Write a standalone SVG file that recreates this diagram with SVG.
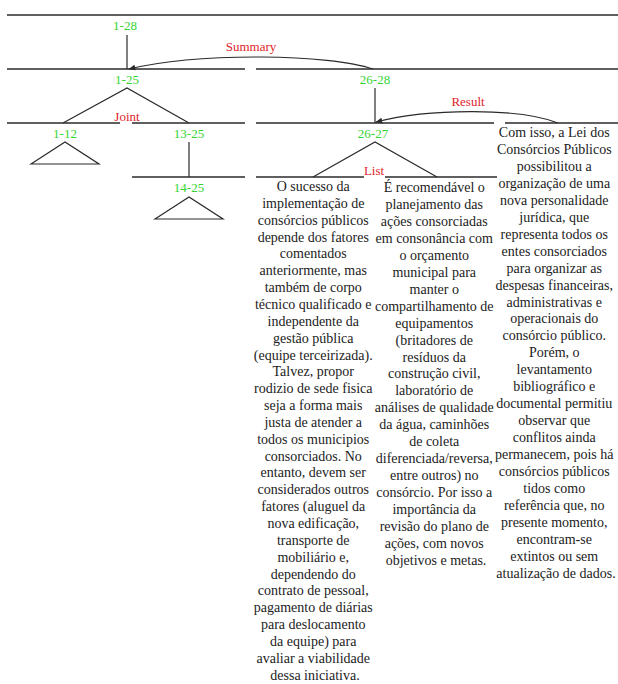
<svg xmlns="http://www.w3.org/2000/svg" width="618" height="684" viewBox="0 0 618 684">
<style>
.rule{stroke:#2a2a2a;stroke-width:1.3;fill:none}
.edge{stroke:#2a2a2a;stroke-width:1.2;fill:none}
text{font-family:'Liberation Serif','DejaVu Serif','Times New Roman',serif}
.lbl{font-size:13px;fill:#33d633;text-anchor:middle}
.rel{font-size:13px;fill:#e0242a;text-anchor:middle}
.body{font-size:14px;fill:#222;text-anchor:middle}
</style>
<defs>
<marker id="ah" viewBox="0 0 10 10" refX="9" refY="5" markerWidth="7" markerHeight="7" orient="auto" markerUnits="userSpaceOnUse">
<path d="M0,1 L10,5 L0,9 z" fill="#2a2a2a"/>
</marker>
</defs>
<rect width="618" height="684" fill="#fff"/>
<g id="rules">
<line class="rule" x1="7" y1="15" x2="618" y2="15"/>
<line class="rule" x1="7" y1="69" x2="245" y2="69"/>
<line class="rule" x1="256" y1="69" x2="618" y2="69"/>
<line class="rule" x1="7" y1="123" x2="120" y2="123"/>
<line class="rule" x1="132" y1="123" x2="245" y2="123"/>
<line class="rule" x1="256" y1="123" x2="494" y2="123"/>
<line class="rule" x1="505" y1="123" x2="618" y2="123"/>
<line class="rule" x1="132" y1="177" x2="245" y2="177"/>
<line class="rule" x1="256" y1="177" x2="364" y2="177"/>
<line class="rule" x1="385" y1="177" x2="497" y2="177"/>
</g>
<g id="connectors">
<line class="edge" x1="127" y1="35" x2="127" y2="69"/>
<polyline class="edge" points="63,123 127,88 189,123"/>
<line class="edge" x1="375" y1="88" x2="375" y2="123"/>
<polygon class="edge" points="31,164 65,142 99,164"/>
<line class="edge" x1="189" y1="142" x2="189" y2="177"/>
<polygon class="edge" points="155,219 189,197 223,219"/>
<polyline class="edge" points="313,177 375,142 437,177"/>
<path class="edge" d="M373,69 C330,54 200,52 129,69" marker-end="url(#ah)"/>
<path class="edge" d="M558,123 C520,108 430,108 376,122" marker-end="url(#ah)"/>
</g>
<g id="n1-28"><text class="lbl" x="125" y="30">1-28</text></g>
<g id="rel-summary"><text class="rel" x="251" y="51">Summary</text></g>
<g id="n1-25"><text class="lbl" x="127" y="84">1-25</text></g>
<g id="n26-28"><text class="lbl" x="375" y="84">26-28</text></g>
<g id="rel-result"><text class="rel" x="468" y="106">Result</text></g>
<g id="rel-joint"><text class="rel" x="127" y="121">Joint</text></g>
<g id="n1-12"><text class="lbl" x="65" y="138">1-12</text></g>
<g id="n13-25"><text class="lbl" x="189" y="138">13-25</text></g>
<g id="n26-27"><text class="lbl" x="373" y="138">26-27</text></g>
<g id="rel-list"><text class="rel" x="374" y="175">List</text></g>
<g id="n14-25"><text class="lbl" x="189" y="192">14-25</text></g>
<g id="n28">
<text class="body" y="137">
<tspan x="556">Com isso, a Lei dos</tspan>
<tspan x="556" dy="16.95">Consórcios Públicos</tspan>
<tspan x="556" dy="16.95">possibilitou a</tspan>
<tspan x="556" dy="16.95">organização de uma</tspan>
<tspan x="556" dy="16.95">nova personalidade</tspan>
<tspan x="556" dy="16.95">jurídica, que</tspan>
<tspan x="556" dy="16.95">representa todos os</tspan>
<tspan x="556" dy="16.95">entes consorciados</tspan>
<tspan x="556" dy="16.95">para organizar as</tspan>
<tspan x="556" dy="16.95">despesas financeiras,</tspan>
<tspan x="556" dy="16.95">administrativas e</tspan>
<tspan x="556" dy="16.95">operacionais do</tspan>
<tspan x="556" dy="16.95">consórcio público.</tspan>
<tspan x="556" dy="16.95">Porém, o</tspan>
<tspan x="556" dy="16.95">levantamento</tspan>
<tspan x="556" dy="16.95">bibliográfico e</tspan>
<tspan x="556" dy="16.95">documental permitiu</tspan>
<tspan x="556" dy="16.95">observar que</tspan>
<tspan x="556" dy="16.95">conflitos ainda</tspan>
<tspan x="556" dy="16.95">permanecem, pois há</tspan>
<tspan x="556" dy="16.95">consórcios públicos</tspan>
<tspan x="556" dy="16.95">tidos como</tspan>
<tspan x="556" dy="16.95">referência que, no</tspan>
<tspan x="556" dy="16.95">presente momento,</tspan>
<tspan x="556" dy="16.95">encontram-se</tspan>
<tspan x="556" dy="16.95">extintos ou sem</tspan>
<tspan x="556" dy="16.95">atualização de dados.</tspan>
</text>
</g>
<g id="n26">
<text class="body" y="191">
<tspan x="315">O sucesso da</tspan>
<tspan x="315" dy="16.85">implementação de</tspan>
<tspan x="315" dy="16.85">consórcios públicos</tspan>
<tspan x="315" dy="16.85">depende dos fatores</tspan>
<tspan x="315" dy="16.85">comentados</tspan>
<tspan x="315" dy="16.85">anteriormente, mas</tspan>
<tspan x="315" dy="16.85">também de corpo</tspan>
<tspan x="315" dy="16.85">técnico qualificado e</tspan>
<tspan x="315" dy="16.85">independente da</tspan>
<tspan x="315" dy="16.85">gestão pública</tspan>
<tspan x="315" dy="16.85">(equipe terceirizada).</tspan>
<tspan x="315" dy="16.85">Talvez, propor</tspan>
<tspan x="315" dy="16.85">rodizio de sede fisica</tspan>
<tspan x="315" dy="16.85">seja a forma mais</tspan>
<tspan x="315" dy="16.85">justa de atender a</tspan>
<tspan x="315" dy="16.85">todos os municipios</tspan>
<tspan x="315" dy="16.85">consorciados. No</tspan>
<tspan x="315" dy="16.85">entanto, devem ser</tspan>
<tspan x="315" dy="16.85">considerados outros</tspan>
<tspan x="315" dy="16.85">fatores (aluguel da</tspan>
<tspan x="315" dy="16.85">nova edificação,</tspan>
<tspan x="315" dy="16.85">transporte de</tspan>
<tspan x="315" dy="16.85">mobiliário e,</tspan>
<tspan x="315" dy="16.85">dependendo do</tspan>
<tspan x="315" dy="16.85">contrato de pessoal,</tspan>
<tspan x="315" dy="16.85">pagamento de diárias</tspan>
<tspan x="315" dy="16.85">para deslocamento</tspan>
<tspan x="315" dy="16.85">da equipe) para</tspan>
<tspan x="315" dy="16.85">avaliar a viabilidade</tspan>
<tspan x="315" dy="16.85">dessa iniciativa.</tspan>
</text>
</g>
<g id="n27">
<text class="body" y="192">
<tspan x="436">É recomendável o</tspan>
<tspan x="436" dy="16.95">planejamento das</tspan>
<tspan x="436" dy="16.95">ações consorciadas</tspan>
<tspan x="436" dy="16.95">em consonância com</tspan>
<tspan x="436" dy="16.95">o orçamento</tspan>
<tspan x="436" dy="16.95">municipal para</tspan>
<tspan x="436" dy="16.95">manter o</tspan>
<tspan x="436" dy="16.95">compartilhamento de</tspan>
<tspan x="436" dy="16.95">equipamentos</tspan>
<tspan x="436" dy="16.95">(britadores de</tspan>
<tspan x="436" dy="16.95">resíduos da</tspan>
<tspan x="436" dy="16.95">construção civil,</tspan>
<tspan x="436" dy="16.95">laboratório de</tspan>
<tspan x="436" dy="16.95">análises de qualidade</tspan>
<tspan x="436" dy="16.95">da água, caminhões</tspan>
<tspan x="436" dy="16.95">de coleta</tspan>
<tspan x="436" dy="16.95">diferenciada/reversa,</tspan>
<tspan x="436" dy="16.95">entre outros) no</tspan>
<tspan x="436" dy="16.95">consórcio. Por isso a</tspan>
<tspan x="436" dy="16.95">importância da</tspan>
<tspan x="436" dy="16.95">revisão do plano de</tspan>
<tspan x="436" dy="16.95">ações, com novos</tspan>
<tspan x="436" dy="16.95">objetivos e metas.</tspan>
</text>
</g>
</svg>
